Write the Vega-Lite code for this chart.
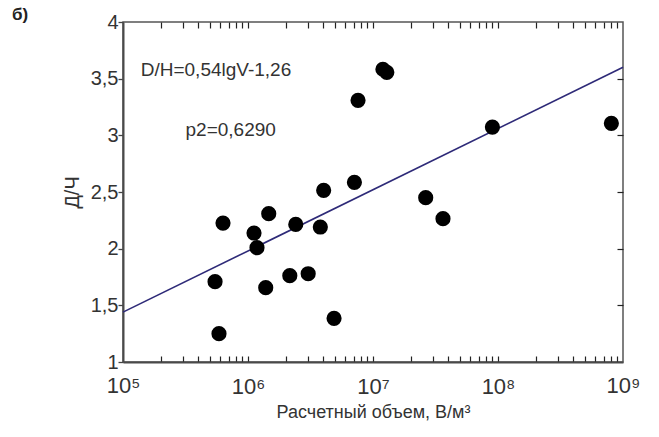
{
  "$schema": "https://vega.github.io/schema/vega-lite/v6.json",
  "autosize": "none",
  "width": 500,
  "height": 340,
  "padding": {"left": 123, "top": 22, "right": 36, "bottom": 75},
  "background": "white",
  "title": {"text": "б)", "anchor": "start", "frame": "group", "dx": -111, "dy": 20, "offset": 0, "baseline": "middle", "fontSize": 17, "font": "Liberation Sans", "fontWeight": "bold", "color": "#222"},
  "config": {
    "view": {"stroke": "#555", "strokeWidth": 1.5},
    "font": "Liberation Sans"
  },
  "datasets": {
    "pts": [
      {"V": 631000, "DH": 2.226},
      {"V": 1465000, "DH": 2.309},
      {"V": 1117000, "DH": 2.138},
      {"V": 1180000, "DH": 2.009},
      {"V": 2410000, "DH": 2.214},
      {"V": 3790000, "DH": 2.191},
      {"V": 4030000, "DH": 2.515},
      {"V": 7100000, "DH": 2.585},
      {"V": 545000, "DH": 1.709},
      {"V": 1386000, "DH": 1.656},
      {"V": 2160000, "DH": 1.762},
      {"V": 3030000, "DH": 1.779},
      {"V": 4880000, "DH": 1.385},
      {"V": 586000, "DH": 1.25},
      {"V": 12000000, "DH": 3.583},
      {"V": 12900000, "DH": 3.556},
      {"V": 7590000, "DH": 3.309},
      {"V": 26400000, "DH": 2.45},
      {"V": 36300000, "DH": 2.265},
      {"V": 90200000, "DH": 3.073},
      {"V": 807000000, "DH": 3.106}
    ],
    "fit": [
      {"V": 100000, "DH": 1.44},
      {"V": 1000000000, "DH": 3.6}
    ],
    "note1": [
      {"V": 138600, "DH": 3.574, "label": "D/H=0,54lgV-1,26"}
    ],
    "note2": [
      {"V": 727000, "DH": 3.044, "label": "p2=0,6290"}
    ]
  },
  "layer": [
    {
      "data": {"name": "fit"},
      "mark": {"type": "line", "color": "#2e2a78", "strokeWidth": 1.6},
      "encoding": {
        "x": {"field": "V", "type": "quantitative", "scale": {"type": "log", "domain": [100000, 1000000000], "nice": false},
          "axis": {"orient": "top", "title": null, "labels": false, "domain": false, "grid": false,
            "values": [200000,300000,400000,500000,600000,700000,800000,900000,1000000,2000000,3000000,4000000,5000000,6000000,7000000,8000000,9000000,10000000,20000000,30000000,40000000,50000000,60000000,70000000,80000000,90000000,100000000,200000000,300000000,400000000,500000000,600000000,700000000,800000000,900000000],
            "tickColor": "#222", "tickWidth": 1.2, "tickSize": -6}},
        "y": {"field": "DH", "type": "quantitative", "scale": {"domain": [1, 4], "nice": false, "zero": false},
          "axis": {"orient": "right", "title": null, "labels": false, "domain": false, "grid": false,
            "values": [1.5, 2, 2.5, 3, 3.5], "tickColor": "#222", "tickWidth": 1.2, "tickSize": -6}}
      }
    },
    {
      "data": {"name": "pts"},
      "mark": {"type": "circle", "color": "#000", "opacity": 1, "size": 230},
      "encoding": {
        "x": {"field": "V", "type": "quantitative", "scale": {"type": "log", "domain": [100000, 1000000000], "nice": false},
          "axis": {"orient": "bottom", "title": "Расчетный объем, В/м³", "titleFontSize": 18, "titleFontWeight": "normal", "titleColor": "#333", "titlePadding": 6,
            "domainColor": "#4a4a4a", "domainWidth": 2,
            "values": [200000,300000,400000,500000,600000,700000,800000,900000,1000000,2000000,3000000,4000000,5000000,6000000,7000000,8000000,9000000,10000000,20000000,30000000,40000000,50000000,60000000,70000000,80000000,90000000,100000000,200000000,300000000,400000000,500000000,600000000,700000000,800000000,900000000],
            "labelExpr": "abs(log(datum.value)/LN10 - round(log(datum.value)/LN10)) < 0.001 ? '10' + ['⁰','¹','²','³','⁴','⁵','⁶','⁷','⁸','⁹'][round(log(datum.value)/LN10)] : ''",
            "labelFontSize": 22, "labelColor": "#333", "labelPadding": 20,
            "tickColor": "#222", "tickWidth": 1.2, "tickSize": -6}},
        "y": {"field": "DH", "type": "quantitative", "scale": {"domain": [1, 4], "nice": false, "zero": false},
          "axis": {"orient": "left", "title": "Д/Ч", "titleFontSize": 20, "titleFontWeight": "normal", "titleColor": "#333", "titlePadding": 8,
            "grid": false, "domainColor": "#4a4a4a", "domainWidth": 2,
            "values": [1, 1.5, 2, 2.5, 3, 3.5, 4],
            "labelExpr": "replace(toString(datum.value), '.', ',')",
            "labelFontSize": 20, "labelColor": "#333", "labelPadding": 0, "labelFlush": false, "labelOverlap": false,
            "tickColor": "#444", "tickWidth": 1.3, "tickSize": 5}}
      }
    },
    {
      "data": {"name": "note1"},
      "mark": {"type": "text", "fontSize": 19, "color": "#333", "baseline": "middle", "align": "left"},
      "encoding": {
        "x": {"field": "V", "type": "quantitative", "scale": {"type": "log", "domain": [100000, 1000000000], "nice": false},
          "axis": {"orient": "bottom", "title": null, "grid": false, "domain": false, "ticks": false, "labelPadding": 13,
            "values": [100000, 1000000000],
            "labelExpr": "'10' + ['⁰','¹','²','³','⁴','⁵','⁶','⁷','⁸','⁹'][round(log(datum.value)/LN10)]",
            "labelFontSize": 22, "labelColor": "#333", "labelFlush": false, "labelOverlap": false}},
        "y": {"field": "DH", "type": "quantitative", "scale": {"domain": [1, 4], "nice": false, "zero": false}, "axis": null},
        "text": {"field": "label"}
      }
    },
    {
      "data": {"name": "note2"},
      "mark": {"type": "text", "fontSize": 19, "color": "#333", "baseline": "middle", "align": "center"},
      "encoding": {
        "x": {"field": "V", "type": "quantitative", "scale": {"type": "log", "domain": [100000, 1000000000], "nice": false}, "axis": null},
        "y": {"field": "DH", "type": "quantitative", "scale": {"domain": [1, 4], "nice": false, "zero": false}, "axis": null},
        "text": {"field": "label"}
      }
    }
  ],
  "resolve": {"axis": {"x": "independent", "y": "independent"}}
}
